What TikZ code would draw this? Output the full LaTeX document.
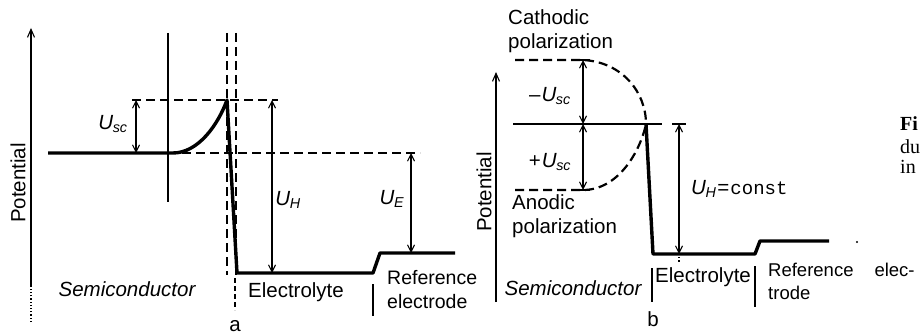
\documentclass[tikz,border=0pt]{standalone}
\usepackage{fontspec}
\setmainfont{Liberation Sans}
\newfontfamily\capfont{Liberation Serif}
\newfontfamily\constfont{Liberation Mono}
\usetikzlibrary{arrows.meta}
\newcommand\Usb[1]{\textit{U}\textsubscript{\kern-0.5pt\textit{#1}}}
\begin{document}
\begin{tikzpicture}[x=1pt,y=-1pt,
  thinln/.style={line width=1.2pt},
  potln/.style={line width=3.4pt, line join=round},
  dashln/.style={line width=2.2pt, dash pattern=on 9pt off 5pt},
  dimarrow/.style={line width=1.1pt, {Straight Barb[length=7pt,width=7pt]}-{Straight Barb[length=7pt,width=7pt]}},
  axisln/.style={line width=1.1pt, -{Straight Barb[length=8pt,width=7pt]}},
  lbl/.style={font=\fontsize{20.5}{23.5}\selectfont, inner sep=0pt},
  captxt/.style={font=\capfont\fontsize{20}{23}\selectfont, inner sep=0pt, anchor=west}]
\useasboundingbox (0,0) rectangle (920,334);
\fill[white] (0,0) rectangle (920,334);
\clip (0,0) rectangle (920,334);

% ================= panel a =================
\coordinate (aAxB) at (31,287);
\coordinate (aAxE) at (31,322);
\coordinate (aAxT) at (31,28);
\draw[thinln, dotted] (aAxE) -- (aAxB);
\draw[axisln] (aAxB) -- (aAxT);
\node[lbl, rotate=90] (aPot) at (18,183) {Potential};

\coordinate (a0) at (48,153);
\coordinate (a1) at (173,153);
\coordinate (apk) at (227,100);
\coordinate (abot) at (237,273);
\coordinate (a2) at (373,273);
\coordinate (a3) at (380,253);
\coordinate (a4) at (455,253);

% thin vertical line
\coordinate (avT) at (168,33);
\coordinate (avB) at (168,202);
\draw[thinln] (avT) -- (avB);
% dashed verticals
\coordinate (ad1T) at (227,33); \coordinate (ad1B) at (227,275);
\coordinate (ad2T) at (236,33); \coordinate (ad2B) at (236,275);
\draw[dashln] (ad1T) -- (ad1B);
\draw[dashln] (ad2T) -- (ad2B);
% dashed horizontals
\coordinate (ahT1) at (132,100); \coordinate (ahT2) at (278,100);
\coordinate (ahM1) at (168,153); \coordinate (ahM2) at (420,153);
\draw[dashln] (ahT1) -- (ahT2);
\draw[dashln] (ahM1) -- (ahM2);

% potential curve
\draw[potln] (a0) -- (a1) .. controls (198,153) and (218,125) .. (apk) -- (abot) -- (a2) -- (a3) -- (a4);

% dimension arrows
\coordinate (usT) at (136,100); \coordinate (usB) at (136,153);
\draw[dimarrow] (usT) -- (usB);
\coordinate (uhT) at (272,100); \coordinate (uhB) at (272,273);
\draw[dimarrow] (uhT) -- (uhB);
\coordinate (ueT) at (411,153); \coordinate (ueB) at (411,253);
\draw[dimarrow] (ueT) -- (ueB);
\node[lbl] (aUsc) at (113,124) {\Usb{sc}};
\node[lbl] (aUH) at (288,200) {\Usb{H}};
\node[lbl] (aUE) at (392,199) {\Usb{E}};

% bottom labels
\node[lbl] (aSemi) at (127,289) {\itshape Semiconductor};
\node[lbl] (aElec) at (296,292) {Electrolyte};
\node[lbl, font=\fontsize{19.5}{24}\selectfont, anchor=west, align=left] (aRef) at (387,290) {Reference\\electrode};
\coordinate (atT) at (235,278); \coordinate (atB) at (235,310);
\draw[thinln, dash pattern=on 5pt off 3pt] (atT) -- (atB);
\coordinate (arT) at (373,284); \coordinate (arB) at (373,316);
\draw[thinln] (arT) -- (arB);
\node[lbl] (aLet) at (235,326) {a};

% ================= panel b =================
\coordinate (bAxB) at (496,302);
\coordinate (bAxT) at (496,72);
\draw[axisln] (bAxB) -- (bAxT);
\node[lbl, rotate=90] (bPot) at (484,192) {Potential};

\node[lbl, anchor=west, align=left] (bCat) at (508,31) {Cathodic\\polarization};
\node[lbl, anchor=west, align=left] (bAno) at (512,216) {Anodic\\polarization};

\coordinate (bTl) at (515,60); \coordinate (bTr) at (583,60);
\coordinate (bBl) at (515,190); \coordinate (bBr) at (583,190);
\coordinate (bpk) at (646,124);
\coordinate (bMl) at (513,124); \coordinate (bMr) at (662,124);
\coordinate (bbot) at (653,254);
\coordinate (b2) at (755,254);
\coordinate (b3) at (760,241);
\coordinate (b4) at (829,241);

\draw[dashln] (bTl) -- (bTr) .. controls (622,62) and (646,92) .. (bpk);
\draw[dashln] (bBl) -- (bBr) .. controls (618,190) and (640,152) .. (bpk);
\draw[line width=2.8pt] (bMl) -- (bMr);
\draw[potln] (bpk) -- (bbot) -- (b2) -- (b3) -- (b4);

\coordinate (bcT1) at (576,60); \coordinate (bcT2) at (590,60);
\coordinate (bcB1) at (576,190); \coordinate (bcB2) at (590,190);
\draw[line width=2pt] (bcT1) -- (bcT2);
\draw[line width=2pt] (bcB1) -- (bcB2);
\coordinate (bsT) at (583,60); \coordinate (bsM) at (583,124); \coordinate (bsB) at (583,190);
\draw[dimarrow] (bsT) -- (bsM);
\draw[dimarrow] (bsM) -- (bsB);
\node[lbl] (bUm) at (550,96) {--\kern1pt\Usb{sc}};
\node[lbl] (bUp) at (550,162) {+\kern1pt\Usb{sc}};

\coordinate (bhT) at (679,124); \coordinate (bhB) at (679,254);
\coordinate (bhc1) at (672,124); \coordinate (bhc2) at (686,124);
\draw[line width=1.5pt] (bhc1) -- (bhc2);
\draw[dimarrow] (bhT) -- (bhB);
\coordinate (bhd) at (679,263);
\draw[thinln, dotted] (bhB) -- (bhd);
\node[lbl, anchor=west] (bUH) at (691,189) {\Usb{H}\kern1pt=\kern1pt{\constfont\fontsize{19}{20}\selectfont const}};

\coordinate (bs1T) at (652,268); \coordinate (bs1B) at (652,302);
\coordinate (bs2T) at (755,266); \coordinate (bs2B) at (755,307);
\draw[thinln] (bs1T) -- (bs1B);
\draw[thinln] (bs2T) -- (bs2B);
\node[lbl] (bSemi) at (573,288) {\itshape Semiconductor};
\node[lbl] (bElec) at (703,277) {Electrolyte};
\node[lbl, font=\fontsize{18.5}{23}\selectfont, anchor=west, align=left] (bRef) at (768,281) {Reference\hspace{21pt}elec-\\trode};
\node[lbl] (bLet) at (653,319) {b};
\node[circle, fill=black, inner sep=0pt, minimum size=2.4pt] (bDot) at (857,242) {};

% cropped caption at right edge
\node[captxt, font=\capfont\bfseries\fontsize{20}{23}\selectfont] (capA) at (900,124) {Fi};
\node[captxt] (capB) at (900,147) {du};
\node[captxt] (capC) at (900,167) {in};
\end{tikzpicture}
\end{document}
